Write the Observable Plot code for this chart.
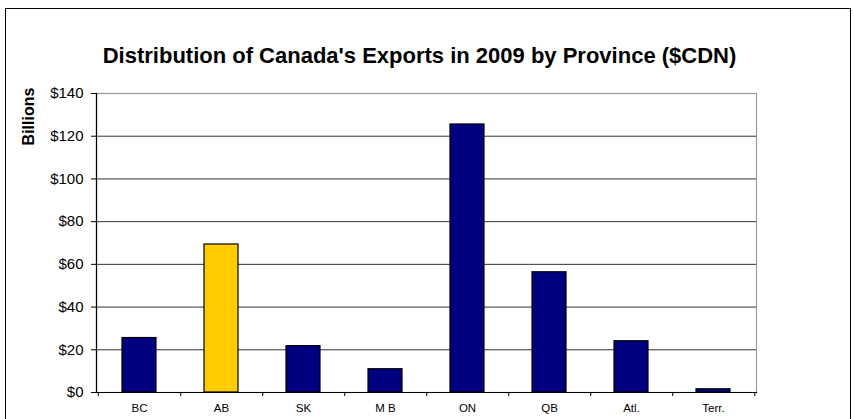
<!DOCTYPE html>
<html>
<head>
<meta charset="utf-8">
<script src="https://cdn.jsdelivr.net/npm/d3@7"></script>
<script src="https://cdn.jsdelivr.net/npm/@observablehq/plot@0.6"></script>
<style>
  html, body { margin: 0; padding: 0; background: #fff; }
  #wrap { position: relative; width: 854px; height: 419px; overflow: hidden; }
  #border { position: absolute; left: 5px; top: 8px; width: 846px; height: 430px; border: 1.5px solid #000; box-sizing: border-box; pointer-events: none; }
  svg { font-family: Arial, "Liberation Sans", sans-serif; }
</style>
</head>
<body>
<div id="wrap"><div id="border"></div></div>
<script>
const provinces = ["BC", "AB", "SK", "M B", "ON", "QB", "Atl.", "Terr."];
const exports2009 = [25.5, 69.3, 21.7, 10.9, 125.5, 56.3, 24.0, 1.5];
const highlight = ["AB"];
const yTicks = [0, 20, 40, 60, 80, 100, 120, 140];
const titleText = "Distribution of Canada's Exports in 2009 by Province ($CDN)";
const yLabel = "Billions";

const data = provinces.map((p, i) => ({province: p, value: exports2009[i]}));

const W = 854, H = 419;
const mL = 96, mR = 98, mT = 93, mB = 27;
const halfStep = (W - mL - mR) / provinces.length / 2;

const chart = Plot.plot({
  width: W,
  height: H,
  marginLeft: mL,
  marginRight: mR,
  marginTop: mT,
  marginBottom: mB,
  style: {fontFamily: "Arial, 'Liberation Sans', sans-serif", background: "transparent", overflow: "visible"},
  x: {domain: provinces, paddingInner: 0.58, paddingOuter: 0.29, align: 0.5, label: null},
  y: {domain: [0, 140], label: null},
  marks: [
    Plot.ruleY(yTicks.filter(t => t > 0 && t < 140), {y: d => d, stroke: "#333", strokeWidth: 1}),
    Plot.frame({stroke: "#999", strokeWidth: 1.2}),
    Plot.barY(data, {
      x: "province", y: "value",
      fill: d => highlight.includes(d.province) ? "#FFCC00" : "#000080",
      stroke: "#000", strokeWidth: 1.2
    }),
    Plot.frame({anchor: "left", stroke: "#000", strokeWidth: 1.2}),
    Plot.frame({anchor: "bottom", stroke: "#000", strokeWidth: 1.2}),
    Plot.ruleX(provinces, {x: d => d, dx: halfStep, y1: 0, y2: -1.9, stroke: "#000"}),
    Plot.ruleX(provinces.slice(0, 1), {x: d => d, dx: -halfStep, y1: 0, y2: -1.9, stroke: "#000"}),
    Plot.axisY({ticks: yTicks, tickFormat: d => "$" + d, tickSize: 5, tickPadding: 8, fontSize: 15, label: null, stroke: "#000"}),
    Plot.axisX({tickSize: 0, tickPadding: 11, fontSize: 11.5, label: null, letterSpacing: "1px"}),
    Plot.text([titleText], {frameAnchor: "top", dy: -46, dx: -7, text: d => d, fontSize: 22, fontWeight: "bold", fill: "#000"}),
    Plot.text([yLabel], {frameAnchor: "top-left", dx: -74, dy: 23, rotate: -90, textAnchor: "middle", text: d => d, fontSize: 16, fontWeight: "bold", fill: "#000"})
  ]
});

document.getElementById("wrap").insertBefore(chart, document.getElementById("border"));
</script>
</body>
</html>
